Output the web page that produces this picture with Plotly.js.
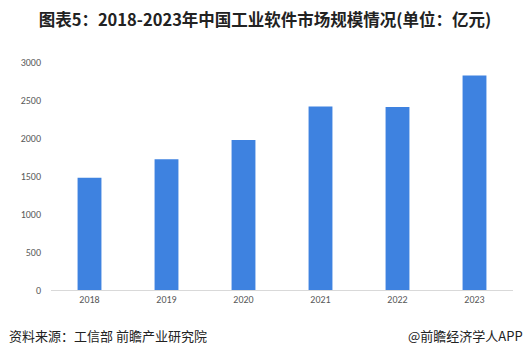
<!DOCTYPE html>
<html>
<head>
<meta charset="utf-8">
<script src="https://cdn.plot.ly/plotly-3.0.1.min.js"></script>
<style>html,body{margin:0;padding:0;background:#fff;}#chart{width:530px;height:358px;}</style>
</head>
<body>
<div id="chart"></div>
<script>
const years = ['2018', '2019', '2020', '2021', '2022', '2023'];
const marketSize = [1477, 1720, 1974, 2414, 2407, 2824];
const yTicks = [0, 500, 1000, 1500, 2000, 2500, 3000];

const cjk = '"Microsoft YaHei", "Noto Sans CJK SC", sans-serif';

const data = [{
  type: 'bar',
  x: years,
  y: marketSize,
  marker: {color: '#3E82E0'},
  width: 0.31,
  hoverinfo: 'x+y'
}];

const layout = {
  width: 530, height: 358,
  margin: {l: 51, r: 17, t: 62, b: 68},
  paper_bgcolor: '#fff', plot_bgcolor: '#fff',
  showlegend: false,
  title: {
    text: '<b>图表5：2018-2023年中国工业软件市场规模情况(单位：亿元)</b>',
    font: {family: cjk, size: 16.5, color: '#222'},
    x: 0.5, xanchor: 'center', y: 0.943, yanchor: 'middle'
  },
  xaxis: {
    type: 'category',
    showgrid: false, zeroline: false,
    showline: true, linecolor: '#d9d9d9', linewidth: 1,
    ticks: '', ticklen: 0,
    tickfont: {family: 'Calibri, Carlito, "Liberation Sans", sans-serif', size: 10, color: '#595959'},
    fixedrange: true
  },
  yaxis: {
    range: [0, 3000],
    tickvals: yTicks,
    ticktext: yTicks.map(String),
    showgrid: false, zeroline: false, showline: false,
    ticks: '', ticklabelstandoff: 9,
    tickfont: {family: 'Calibri, Carlito, "Liberation Sans", sans-serif', size: 10, color: '#595959'},
    fixedrange: true
  },
  annotations: [
    {text: '资料来源：工信部 前瞻产业研究院', xref: 'paper', yref: 'paper',
     x: -0.095, y: -0.2, xanchor: 'left', yanchor: 'middle', showarrow: false,
     font: {family: cjk, size: 13, color: '#222'}},
    {text: '@前瞻经济学人APP', xref: 'paper', yref: 'paper',
     x: 1.026, y: -0.2, xanchor: 'right', yanchor: 'middle', showarrow: false,
     font: {family: cjk, size: 13, color: '#222'}}
  ]
};

Plotly.newPlot('chart', data, layout, {displayModeBar: false, staticPlot: true});
</script>
</body>
</html>
